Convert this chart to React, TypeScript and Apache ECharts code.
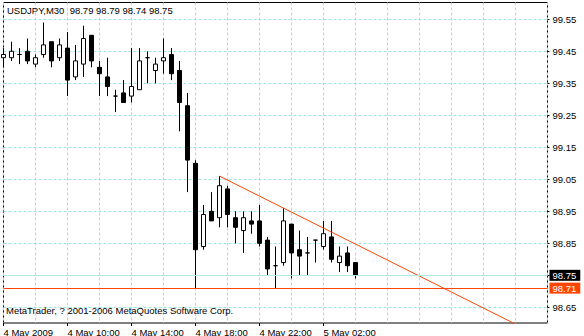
import React, { useEffect, useRef } from 'react';
import * as echarts from 'echarts';

// ---- data (USDJPY, M30) ----
const barTimes = [
  '04.05 06:00', '04.05 06:30', '04.05 07:00', '04.05 07:30', '04.05 08:00', '04.05 08:30',
  '04.05 09:00', '04.05 09:30', '04.05 10:00', '04.05 10:30', '04.05 11:00', '04.05 11:30',
  '04.05 12:00', '04.05 12:30', '04.05 13:00', '04.05 13:30', '04.05 14:00', '04.05 14:30',
  '04.05 15:00', '04.05 15:30', '04.05 16:00', '04.05 16:30', '04.05 17:00', '04.05 17:30',
  '04.05 18:00', '04.05 18:30', '04.05 19:00', '04.05 19:30', '04.05 20:00', '04.05 20:30',
  '04.05 21:00', '04.05 21:30', '04.05 22:00', '04.05 22:30', '04.05 23:00', '04.05 23:30',
  '05.05 00:00', '05.05 00:30', '05.05 01:00', '05.05 01:30', '05.05 02:00', '05.05 02:30',
  '05.05 03:00', '05.05 03:30', '05.05 04:00',
];
const opens = [
  99.43, 99.43, 99.44, 99.45, 99.41, 99.44, 99.48, 99.43, 99.46, 99.37, 99.41, 99.50,
  99.40, 99.37, 99.31, 99.32, 99.31, 99.33, 99.43, 99.39, 99.42, 99.44, 99.39, 99.28,
  99.10, 98.84, 98.95, 98.93, 99.02, 98.93, 98.89, 98.92, 98.92, 98.86, 98.78, 98.79,
  98.91, 98.83, 98.82, 98.86, 98.84, 98.87, 98.79, 98.82, 98.79,
];
const highs = [
  99.46, 99.48, 99.46, 99.49, 99.44, 99.54, 99.48, 99.49, 99.51, 99.47, 99.53, 99.50,
  99.42, 99.43, 99.33, 99.36, 99.46, 99.46, 99.45, 99.43, 99.49, 99.46, 99.42, 99.32,
  99.11, 98.97, 99.01, 99.06, 99.03, 98.95, 98.95, 98.95, 98.97, 98.87, 98.84, 98.96,
  98.91, 98.89, 98.87, 98.86, 98.92, 98.92, 98.84, 98.84, 98.79,
];
const lows = [
  99.40, 99.42, 99.41, 99.41, 99.40, 99.43, 99.40, 99.42, 99.31, 99.36, 99.37, 99.40,
  99.31, 99.31, 99.26, 99.29, 99.29, 99.33, 99.35, 99.35, 99.38, 99.36, 99.20, 99.01,
  98.71, 98.83, 98.92, 98.90, 98.90, 98.85, 98.82, 98.88, 98.84, 98.75, 98.71, 98.78,
  98.74, 98.75, 98.75, 98.79, 98.83, 98.79, 98.76, 98.76, 98.74,
];
const closes = [
  99.44, 99.45, 99.44, 99.42, 99.43, 99.47, 99.42, 99.47, 99.36, 99.42, 99.49, 99.42,
  99.38, 99.34, 99.31, 99.29, 99.34, 99.42, 99.43, 99.41, 99.43, 99.38, 99.29, 99.11,
  98.83, 98.94, 98.92, 99.03, 98.94, 98.90, 98.93, 98.91, 98.85, 98.77, 98.78, 98.92,
  98.82, 98.81, 98.82, 98.86, 98.88, 98.80, 98.81, 98.78, 98.75,
];
const emptySlots = 24; // chart shift on the right
const xTickLabels: [number, string][] = [
  [0, '4 May 2009'],
  [8, '4 May 10:00'],
  [16, '4 May 14:00'],
  [24, '4 May 18:00'],
  [32, '4 May 22:00'],
  [40, '5 May 02:00'],
];
const yTickValues = [98.65, 98.75, 98.85, 98.95, 99.05, 99.15, 99.25, 99.35, 99.45, 99.55];
const yLabelValues = [98.65, 98.85, 98.95, 99.05, 99.15, 99.25, 99.35, 99.45, 99.55];
const yMin = 98.601;
const yMax = 99.6025;
const bidPrice = 98.75;
const supportPrice = 98.71;
const trendFrom: [number, number] = [27, 99.06];
const trendThrough: [number, number] = [35, 98.96];
const titleText = 'USDJPY,M30  98.79 98.79 98.74 98.75';
const copyrightText = 'MetaTrader, ? 2001-2006 MetaQuotes Software Corp.';

const FONT_FAMILY = '"Liberation Sans", Arial, sans-serif';
const FONT_SIZE = 9.5;
const GRID_COLOR = '#9fe3dc';
const BID_COLOR = '#aee8e4';
const LINE_RED = '#ff4500';

export default function App() {
  const ref = useRef<HTMLDivElement>(null);

  useEffect(() => {
    if (!ref.current) return;
    const chart = echarts.init(ref.current, undefined, { renderer: 'svg' });

    const categories = [...barTimes, ...Array.from({ length: emptySlots }, () => '')];
    const labelMap = new Map<number, string>(xTickLabels);
    const candleData = opens.map((o, i) => [o, closes[i], lows[i], highs[i]]);
    const lastIndex = categories.length - 1;
    const slope = (trendThrough[1] - trendFrom[1]) / (trendThrough[0] - trendFrom[0]);
    const trendData = [
      [trendFrom[0], trendFrom[1]],
      [lastIndex, trendFrom[1] + slope * (lastIndex - trendFrom[0])],
    ];

    const valueLabelAxis = (values: number[], bg: string, color: string, margin: number) => ({
      type: 'value',
      position: 'right',
      min: yMin,
      max: yMax,
      axisLine: { show: false },
      axisTick: { show: false },
      splitLine: { show: false },
      axisLabel: {
        customValues: values,
        formatter: (v: number) => v.toFixed(2),
        margin,
        color,
        fontSize: FONT_SIZE,
        fontFamily: FONT_FAMILY,
        lineHeight: 10,
        backgroundColor: bg,
        padding: [1, 4, 0, 3],
      },
    });

    chart.setOption({
      animation: false,
      backgroundColor: '#ffffff',
      grid: {
        left: 3.5,
        top: 2.5,
        width: 544,
        height: 320.5,
        show: true,
        borderColor: '#000000',
        borderWidth: 1,
        backgroundColor: '#ffffff',
        outerBoundsMode: 'none',
      },
      xAxis: {
        type: 'category',
        data: categories,
        boundaryGap: false,
        axisLine: { show: false },
        axisTick: {
          show: true,
          length: 3,
          interval: (i: number) => labelMap.has(i),
          lineStyle: { color: '#000000' },
        },
        axisLabel: {
          interval: (i: number) => labelMap.has(i),
          formatter: (_v: string, i: number) => labelMap.get(i) ?? '',
          align: 'left',
          verticalAlign: 'top',
          margin: 4,
          color: '#000000',
          fontSize: FONT_SIZE,
          fontFamily: FONT_FAMILY,
          lineHeight: 10,
        },
        splitLine: {
          show: true,
          interval: (i: number) => i % 4 === 0,
          lineStyle: { color: GRID_COLOR, type: [3, 2], width: 1 },
        },
      },
      yAxis: [
        {
          type: 'value',
          position: 'right',
          min: yMin,
          max: yMax,
          axisLine: { show: false },
          axisTick: {
            show: true,
            length: 2,
            customValues: yTickValues,
            lineStyle: { color: '#000000' },
          },
          axisLabel: {
            customValues: yLabelValues,
            formatter: (v: number) => v.toFixed(2),
            margin: 5,
            color: '#000000',
            fontSize: FONT_SIZE,
            fontFamily: FONT_FAMILY,
          },
          splitLine: {
            show: true,
            lineStyle: { color: GRID_COLOR, type: [3, 2], width: 1 },
          },
        },
        valueLabelAxis([bidPrice], '#000000', '#ffffff', 2),
        valueLabelAxis([supportPrice], LINE_RED, '#ffffff', 2),
      ],
      series: [
        {
          type: 'candlestick',
          xAxisIndex: 0,
          yAxisIndex: 0,
          data: candleData,
          barWidth: 4,
          itemStyle: {
            color: '#ffffff',
            color0: '#000000',
            borderColor: '#000000',
            borderColor0: '#000000',
            borderColorDoji: '#000000',
            borderWidth: 1,
          },
          markLine: {
            silent: true,
            symbol: 'none',
            label: { show: false },
            emphasis: { disabled: true },
            data: [
              { yAxis: bidPrice, lineStyle: { color: BID_COLOR, type: 'solid', width: 1 } },
              { yAxis: supportPrice, lineStyle: { color: LINE_RED, type: 'solid', width: 1 } },
            ],
          },
        },
        {
          type: 'line',
          xAxisIndex: 0,
          yAxisIndex: 0,
          data: trendData,
          symbol: 'none',
          silent: true,
          clip: true,
          lineStyle: { color: LINE_RED, width: 1 },
          z: 3,
        },
      ],
      graphic: [
        {
          type: 'text',
          left: 7,
          top: 5,
          z: 10,
          style: {
            text: titleText,
            fill: '#000000',
            font: `${FONT_SIZE}px ${FONT_FAMILY}`,
          },
        },
        {
          type: 'text',
          left: 6,
          top: 305,
          z: 10,
          style: {
            text: copyrightText,
            fill: '#000000',
            font: `${FONT_SIZE}px ${FONT_FAMILY}`,
          },
        },
      ],
    });

    return () => {
      chart.dispose();
    };
  }, []);

  return (
    <div
      ref={ref}
      style={{ position: 'fixed', left: 0, top: 0, width: 584, height: 336, background: '#fff' }}
    />
  );
}
